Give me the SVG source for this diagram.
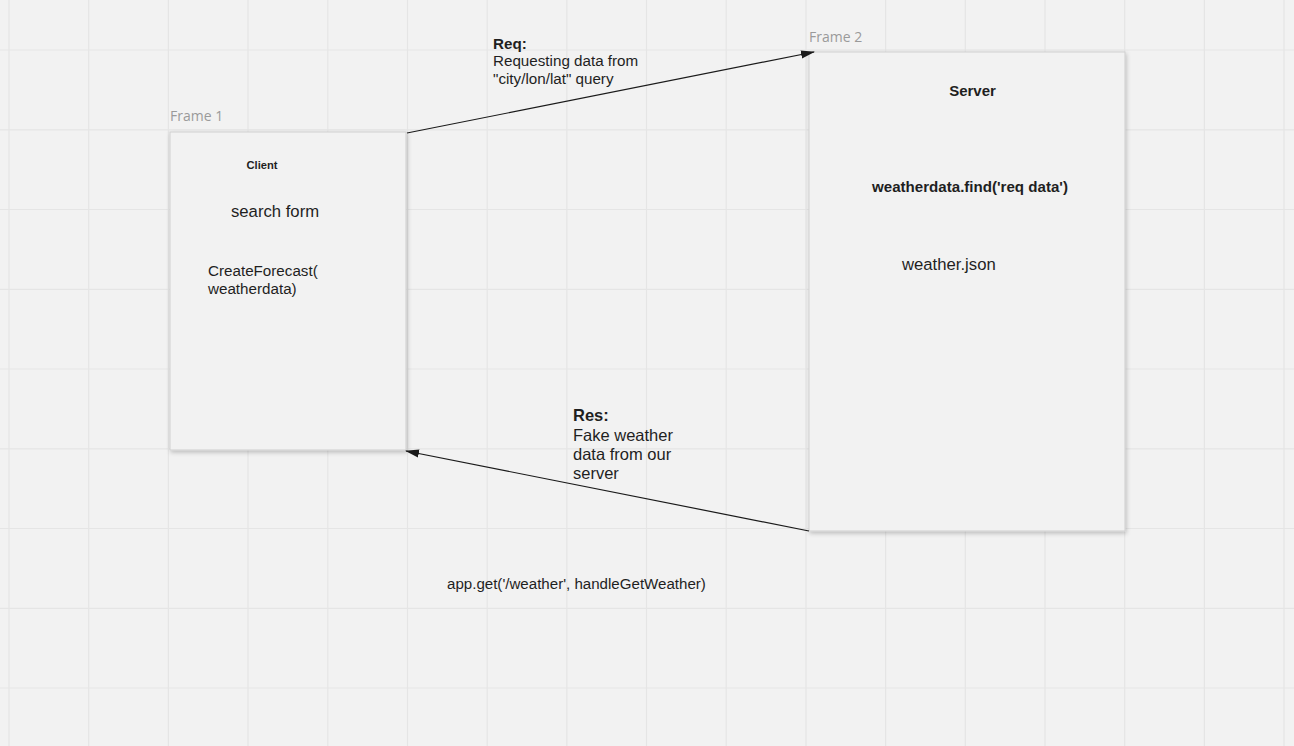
<svg xmlns="http://www.w3.org/2000/svg" width="1294" height="746" viewBox="0 0 1294 746">
<defs>
<style>
.grid{stroke:#e5e5e5;stroke-width:1.2}
.frame{fill:#f2f2f2;stroke:#cfcfcf;stroke-width:1}
.flabel{font-family:"Open Sans","Liberation Sans",sans-serif;font-size:14px;fill:#9a9a9a}
.t{font-family:"Liberation Sans",Arial,sans-serif;fill:#1f1f1f}
.b{font-weight:bold}
.conn{stroke:#1a1a1a;stroke-width:1.2;fill:none}
</style>
<filter id="sh" x="-10%" y="-10%" width="120%" height="120%">
<feDropShadow dx="1" dy="2" stdDeviation="2" flood-color="#000" flood-opacity="0.22"/>
</filter>
<marker id="ah" markerWidth="14" markerHeight="10" refX="13" refY="5" orient="auto" markerUnits="userSpaceOnUse">
<path d="M0,1 L14,5 L0,9 Z" fill="#1a1a1a"/>
</marker>
</defs>
<rect x="0" y="0" width="1294" height="746" fill="#f2f2f2"/>
<g id="grid">
<path class="grid" d="M9,0V746M88.7,0V746M168.4,0V746M248,0V746M327.8,0V746M407.5,0V746M487.2,0V746M566.9,0V746M646.5,0V746M726.2,0V746M806,0V746M885.6,0V746M965.3,0V746M1045,0V746M1124.7,0V746M1204.4,0V746M1284,0V746"/>
<path class="grid" d="M0,50H1294M0,129.8H1294M0,209.5H1294M0,289.3H1294M0,369H1294M0,448.8H1294M0,528.5H1294M0,608.3H1294M0,688H1294"/>
</g>
<g id="frame1">
<text class="flabel" x="170" y="121">Frame 1</text>
<rect class="frame" x="170" y="132" width="236" height="318" filter="url(#sh)"/>
<text class="t b" x="262" y="169" font-size="11.2" text-anchor="middle">Client</text>
<text class="t" x="231" y="217" font-size="16.7">search form</text>
<text class="t" x="208" y="276" font-size="15.2">CreateForecast(</text>
<text class="t" x="208" y="294" font-size="15.2">weatherdata)</text>
</g>
<g id="frame2">
<text class="flabel" x="809" y="42">Frame 2</text>
<rect class="frame" x="809" y="52" width="316" height="479" filter="url(#sh)"/>
<text class="t b" x="972.5" y="96" font-size="15" text-anchor="middle">Server</text>
<text class="t b" x="970" y="192" font-size="15.1" text-anchor="middle">weatherdata.find('req data')</text>
<text class="t" x="902" y="270" font-size="16.7">weather.json</text>
</g>
<g id="connectors">
<line class="conn" x1="407" y1="133" x2="814" y2="52" marker-end="url(#ah)"/>
<line class="conn" x1="809" y1="531" x2="406" y2="451" marker-end="url(#ah)"/>
</g>
<g id="labels">
<text class="t b" x="493" y="49" font-size="15.2">Req:</text>
<text class="t" x="493" y="66" font-size="15.2">Requesting data from</text>
<text class="t" x="493" y="84" font-size="15.2">"city/lon/lat" query</text>
<text class="t b" x="573" y="421" font-size="16.5">Res:</text>
<text class="t" x="573" y="441" font-size="16.5">Fake weather</text>
<text class="t" x="573" y="460" font-size="16.5">data from our</text>
<text class="t" x="573" y="479" font-size="16.5">server</text>
<text class="t" x="447" y="589" font-size="15.1">app.get('/weather', handleGetWeather)</text>
</g>
</svg>
